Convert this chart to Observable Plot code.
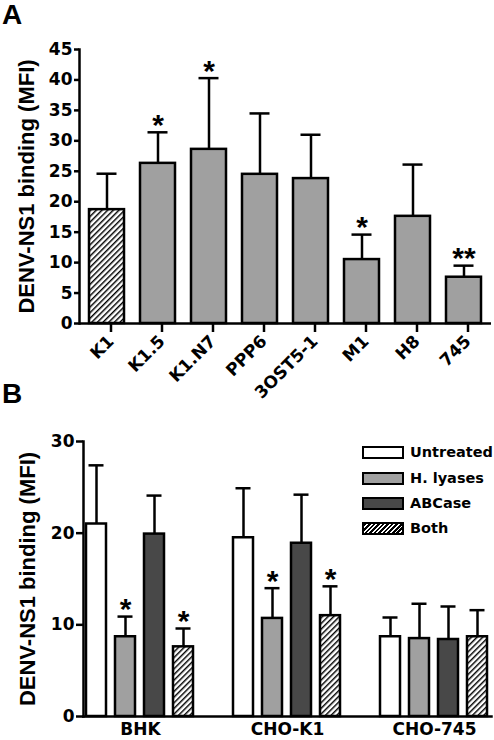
<!DOCTYPE html>
<html>
<head>
<meta charset="utf-8">
<script src="https://cdn.jsdelivr.net/npm/d3@7"></script>
<script src="https://cdn.jsdelivr.net/npm/@observablehq/plot@0.6"></script>
<style>
  body { margin: 0; background: #fff; }
  #root { position: relative; width: 494px; height: 740px; overflow: hidden;
          font-family: "DejaVu Sans", sans-serif; font-weight: bold; color: #000; }
  .panel { position: absolute; left: 0; }
  .tag { position: absolute; left: 2px; font-family: "Liberation Sans", Arial, sans-serif; font-size: 28px; line-height: 30px; font-weight: bold; }
  .legrow { position: absolute; left: 362px; height: 14px; }
  .legbox { position: absolute; left: 0; top: 0; width: 38px; height: 9px; border: 2.5px solid #000; }
  .legtxt { position: absolute; left: 48px; top: -4px; font-size: 14.5px; letter-spacing: 0px; white-space: nowrap; line-height: 20px; }
</style>
</head>
<body>
<div id="root"></div>
<script>
// ---------- Panel A data ----------
const cellLinesA = ["K1", "K1.5", "K1.N7", "PPP6", "3OST5-1", "M1", "H8", "745"];
const meanA = [18.7, 26.3, 28.6, 24.5, 23.8, 10.5, 17.6, 7.6];
const errA  = [5.9, 5.1, 11.7, 10.0, 7.2, 4.1, 8.5, 1.9];
const sigA  = ["", "*", "*", "", "", "*", "", "**"];
const controlA = "K1";
const ticksA = [0, 5, 10, 15, 20, 25, 30, 35, 40, 45];

// ---------- Panel B data ----------
const groupsB = ["BHK", "CHO-K1", "CHO-745"];
const treatmentsB = ["Untreated", "H. lyases", "ABCase", "Both"];
const meanBHK    = [21.0, 8.7, 19.9, 7.6];
const meanCHOK1  = [19.5, 10.7, 18.9, 11.0];
const meanCHO745 = [8.7, 8.5, 8.4, 8.7];
const errBHK     = [6.4, 2.2, 4.2, 2.0];
const errCHOK1   = [5.4, 3.3, 5.3, 3.2];
const errCHO745  = [2.1, 3.8, 3.6, 2.9];
const sigBHK     = ["", "*", "", "*"];
const sigCHOK1   = ["", "*", "", "*"];
const sigCHO745  = ["", "", "", ""];
const ticksB = [0, 10, 20, 30];

const FONT = '"DejaVu Sans", sans-serif';
const LABELFONT = '"Liberation Sans", Arial, sans-serif';
const yLabel = "DENV-NS1 binding (MFI)";
const fillsB = ["#ffffff", "#a0a0a0", "#484848", "url(#hatchB)"];

function addHatch(svg, id) {
  const defs = d3.select(svg).insert("defs", ":first-child");
  const p = defs.append("pattern").attr("id", id).attr("width", 4).attr("height", 4)
    .attr("patternUnits", "userSpaceOnUse").attr("patternTransform", "rotate(45)");
  p.append("rect").attr("width", 4).attr("height", 4).attr("fill", "#fff");
  p.append("line").attr("x1", 0).attr("y1", 0).attr("x2", 0).attr("y2", 4)
    .attr("stroke", "#000").attr("stroke-width", 2.9);
}
function styleLabel(svg) {
  d3.select(svg).selectAll('[aria-label="y-axis label"] text')
    .attr("font-size", 22).attr("font-family", LABELFONT).style("letter-spacing", "0px");
}

const root = document.getElementById("root");

// ---------- Panel A ----------
const dataA = cellLinesA.map((name, i) => ({
  name, mean: meanA[i], top: meanA[i] + errA[i], sig: sigA[i],
  kind: name === controlA ? "control" : "mutant"
}));

const plotA = Plot.plot({
  width: 494, height: 410,
  marginLeft: 79, marginRight: 3, marginTop: 49, marginBottom: 87,
  style: { fontFamily: FONT, fontWeight: "bold", fontSize: "17px", background: "transparent", color: "#000", overflow: "visible" },
  x: { domain: cellLinesA, paddingInner: 0.315, paddingOuter: 0.176, label: null },
  y: { domain: [0, 45], label: null },
  color: { domain: ["control", "mutant"], range: ["url(#hatchA)", "#a0a0a0"] },
  marks: [
    Plot.ruleX(dataA, { x: "name", y1: "mean", y2: "top", stroke: "#000", strokeWidth: 2.5 }),
    Plot.tickY(dataA, { x: "name", y: "top", stroke: "#000", strokeWidth: 2.5, inset: 7.5 }),
    Plot.barY(dataA, { x: "name", y: "mean", fill: "kind", stroke: "#000", strokeWidth: 2.5 }),
    Plot.text(dataA, { x: "name", y: "top", text: "sig", fontSize: 30, fontFamily: LABELFONT, dy: -7 }),
    Plot.axisY({ ticks: ticksA, tickSize: 5, tickPadding: 2, strokeWidth: 2.5, label: yLabel, labelAnchor: "center", labelArrow: "none", labelOffset: 61 }),
    Plot.axisX({ tickSize: 9, tickPadding: 6, dx: 4, tickRotate: -45, strokeWidth: 2.5, label: null }),
    Plot.frame({ anchor: "left", strokeWidth: 2.5 }),
    Plot.ruleY([0], { stroke: "#000", strokeWidth: 2.5 })
  ]
});
addHatch(plotA, "hatchA");
styleLabel(plotA);

// ---------- Panel B ----------
const meansB = [meanBHK, meanCHOK1, meanCHO745];
const errsB = [errBHK, errCHOK1, errCHO745];
const sigsB = [sigBHK, sigCHOK1, sigCHO745];
const dataB = groupsB.flatMap((group, gi) => treatmentsB.map((treatment, ti) => ({
  group, treatment, mean: meansB[gi][ti], top: meansB[gi][ti] + errsB[gi][ti], sig: sigsB[gi][ti]
})));

const plotB = Plot.plot({
  width: 494, height: 380,
  marginLeft: 82, marginRight: 3, marginTop: 81, marginBottom: 24,
  style: { fontFamily: FONT, fontWeight: "bold", fontSize: "17px", background: "transparent", color: "#000", overflow: "visible" },
  fx: { domain: groupsB, paddingInner: 0.225, paddingOuter: 0, label: null },
  x: { domain: treatmentsB, paddingInner: 0.3, paddingOuter: 0.1, axis: null },
  y: { domain: [0, 30], label: null },
  color: { domain: treatmentsB, range: fillsB },
  marks: [
    Plot.ruleX(dataB, { fx: "group", x: "treatment", y1: "mean", y2: "top", stroke: "#000", strokeWidth: 2.5 }),
    Plot.tickY(dataB, { fx: "group", x: "treatment", y: "top", stroke: "#000", strokeWidth: 2.5, inset: 2.5 }),
    Plot.barY(dataB, { fx: "group", x: "treatment", y: "mean", fill: "treatment", stroke: "#000", strokeWidth: 2.5 }),
    Plot.text(dataB, { fx: "group", x: "treatment", y: "top", text: "sig", fontSize: 30, fontFamily: LABELFONT, dy: -7 }),
    Plot.axisY({ ticks: ticksB, tickSize: 7, tickPadding: 2, strokeWidth: 2.5, label: yLabel, labelAnchor: "center", labelArrow: "none", labelOffset: 64 }),
    Plot.axisFx({ anchor: "bottom", tickSize: 0, tickPadding: 6, fontSize: 17, label: null }),
    Plot.frame({ anchor: "left", facet: "super", strokeWidth: 2.5 }),
    Plot.frame({ anchor: "bottom", facet: "super", strokeWidth: 2.5 })
  ]
});
addHatch(plotB, "hatchB");
styleLabel(plotB);

const divB = document.createElement("div");
divB.className = "panel"; divB.style.top = "360px";
divB.appendChild(plotB);
root.appendChild(divB);

const divA = document.createElement("div");
divA.className = "panel"; divA.style.top = "0px";
divA.appendChild(plotA);
root.appendChild(divA);

// panel tags
for (const [t, top] of [["A", 0], ["B", 379]]) {
  const d = document.createElement("div");
  d.className = "tag"; d.style.top = top + "px"; d.textContent = t;
  root.appendChild(d);
}

// legend for panel B
const legendTop = [446, 472, 497, 522];
treatmentsB.forEach((t, i) => {
  const row = document.createElement("div");
  row.className = "legrow"; row.style.top = legendTop[i] + "px";
  const box = document.createElement("div");
  box.className = "legbox";
  box.style.background = fillsB[i].startsWith("url")
    ? "repeating-linear-gradient(135deg, #000 0 2px, #fff 2px 3.2px)"
    : fillsB[i];
  const txt = document.createElement("div");
  txt.className = "legtxt"; txt.textContent = t;
  row.appendChild(box); row.appendChild(txt);
  root.appendChild(row);
});
</script>
</body>
</html>
